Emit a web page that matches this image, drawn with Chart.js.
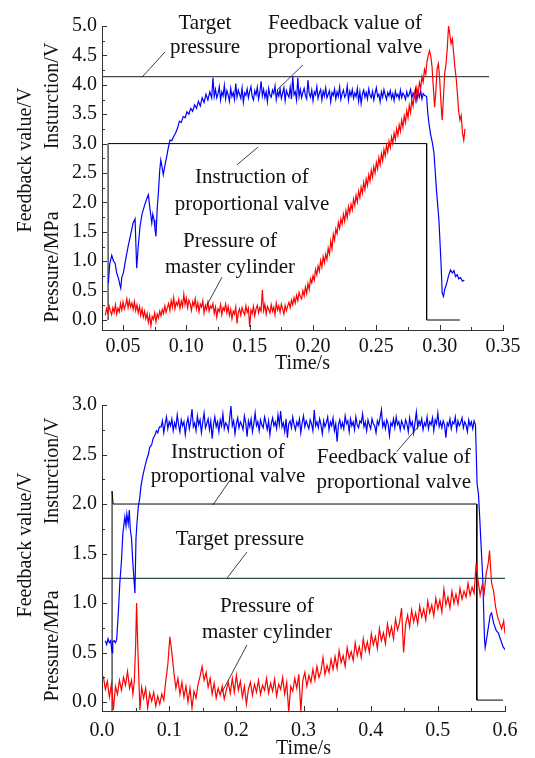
<!DOCTYPE html>
<html>
<head>
<meta charset="utf-8">
<script src="https://cdn.jsdelivr.net/npm/chart.js@4.4.1/dist/chart.umd.min.js"></script>
<style>
  body { margin: 0; background: #fff; }
  .wrap { position: relative; width: 535px; height: 758px; overflow: hidden; }
  canvas { position: absolute; left: 0; }
</style>
</head>
<body>
<div class="wrap">
  <canvas id="chartTop" width="535" height="379" style="top:0"></canvas>
  <canvas id="chartBottom" width="535" height="382" style="top:379px"></canvas>
</div>
<script>
// ---- top chart data: [time s, value] ----
const x1Ticks = [0.05, 0.10, 0.15, 0.20, 0.25, 0.30, 0.35];
const y1Ticks = [0.0, 0.5, 1.0, 1.5, 2.0, 2.5, 3.0, 3.5, 4.0, 4.5, 5.0];

const target1 = [[0.0334, 4.14], [0.339, 4.14]];
const instr1 = [[0.0382, 0], [0.0382, 3.0], [0.2897, 3.0], [0.2897, 0], [0.316, 0]];

const feedback1 = [
  [0.0384,0.63],[0.0395,0.95],[0.0411,1.10],[0.0425,1.00],[0.0437,0.97],[0.0450,0.80],[0.0465,0.70],
  [0.0475,0.60],[0.0482,0.54],[0.0490,0.72],[0.0503,0.80],[0.0520,1.02],[0.0540,1.25],[0.0560,1.45],
  [0.0580,1.65],[0.0595,1.72],[0.0608,0.88],[0.0620,1.25],[0.0634,1.59],[0.0650,1.80],[0.0670,1.95],
  [0.0685,2.05],[0.0700,2.13],[0.0712,1.90],[0.0727,1.65],[0.0735,1.80],[0.0745,1.70],[0.0752,1.55],
  [0.0760,1.42],[0.0770,1.90],[0.0779,2.16],[0.0790,2.55],[0.0798,2.72],[0.0808,2.60],[0.0818,2.47],
  [0.0830,2.62],[0.0845,2.78],[0.0855,2.90],[0.0871,3.06],[0.0885,3.05],[0.0900,3.12],[0.0915,3.18],
  [0.0930,3.26],[0.0945,3.38],[0.0960,3.36],[0.0975,3.46],[0.0990,3.44],[0.1005,3.54],[0.1020,3.50],
  [0.1035,3.60],[0.1050,3.55],[0.1065,3.66],[0.1080,3.60],[0.1095,3.72],[0.1110,3.64],[0.1125,3.78],
  [0.1140,3.70],[0.1155,3.84],[0.1170,3.74],[0.1185,3.88],[0.1200,3.78],[0.1210,4.12],[0.1220,3.80],
  [0.123,3.92],[0.124,3.78],[0.125,3.85],[0.126,3.97],[0.127,3.74],[0.128,3.88],[0.129,3.81],[0.130,3.99],[0.131,3.76],[0.132,3.90],
  [0.133,3.83],[0.134,3.72],[0.135,3.94],[0.136,3.80],[0.137,3.87],[0.138,3.75],[0.139,4.02],[0.140,3.79],[0.141,3.91],[0.142,3.84],
  [0.143,3.77],[0.144,3.95],[0.145,3.70],[0.146,3.86],[0.147,3.82],[0.148,3.93],[0.149,3.78],[0.150,3.89],[0.151,3.97],[0.152,3.80],
  [0.153,3.74],[0.154,3.90],[0.155,3.83],[0.156,3.96],[0.157,3.76],[0.158,3.87],[0.159,4.06],[0.160,3.81],[0.161,3.92],[0.162,3.78],
  [0.163,3.88],[0.164,3.71],[0.165,3.94],[0.166,3.82],[0.167,3.79],[0.168,3.91],[0.169,3.85],[0.170,3.98],[0.171,3.75],[0.172,3.89],
  [0.173,3.81],[0.174,3.93],[0.175,3.77],[0.176,3.86],[0.177,3.95],[0.178,3.73],[0.179,3.90],[0.180,3.84],[0.181,3.79],[0.182,3.96],
  [0.183,3.76],[0.184,4.14],[0.185,3.83],[0.186,3.88],[0.187,3.74],[0.188,4.12],[0.189,3.80],[0.190,3.92],[0.191,3.78],[0.192,3.87],
  [0.193,3.94],[0.194,3.82],[0.195,3.76],[0.196,4.08],[0.197,3.85],[0.198,3.79],[0.199,3.91],[0.200,3.73],[0.201,3.88],[0.202,3.83],
  [0.203,3.97],[0.204,3.77],[0.205,3.86],[0.206,3.92],[0.207,3.74],[0.208,3.89],[0.209,3.81],[0.210,3.95],[0.211,3.78],[0.212,3.84],
  [0.213,3.90],[0.214,3.71],[0.215,3.87],[0.216,3.82],[0.217,3.93],[0.218,3.76],[0.219,3.88],[0.220,3.80],[0.221,3.96],[0.222,3.75],
  [0.223,3.85],[0.224,3.91],[0.225,3.79],[0.226,3.83],[0.227,3.98],[0.228,3.74],[0.229,3.89],[0.230,3.81],[0.231,3.92],[0.232,3.77],
  [0.233,3.86],[0.234,3.80],[0.235,3.94],[0.236,3.72],[0.237,3.88],[0.238,3.68],[0.239,3.84],[0.240,3.91],[0.241,3.79],[0.242,3.87],
  [0.243,3.76],[0.244,3.93],[0.245,3.82],[0.246,3.78],[0.247,3.89],[0.248,3.74],[0.249,3.86],[0.250,3.95],[0.251,3.80],[0.252,3.84],
  [0.253,3.71],[0.254,3.88],[0.255,3.79],[0.256,3.92],[0.257,3.83],[0.258,3.75],[0.259,3.87],[0.260,3.81],[0.261,3.90],[0.262,3.77],
  [0.263,3.85],[0.264,3.73],[0.265,3.89],[0.266,3.80],[0.267,3.84],[0.268,3.76],[0.269,3.91],[0.270,3.78],[0.271,3.86],[0.272,3.82],
  [0.273,3.75],[0.274,3.88],[0.275,3.80],[0.276,3.84],[0.277,3.92],[0.278,3.77],[0.279,3.86],[0.280,3.81],[0.281,3.93],[0.282,3.74],
  [0.283,3.87],[0.284,3.79],[0.285,3.90],[0.286,3.76],[0.287,3.85],[0.288,3.82],
  [0.2897,3.80],[0.2905,3.55],[0.2915,3.35],[0.2929,3.15],
  [0.2942,3.02],[0.2955,2.84],[0.2975,2.20],[0.2994,1.70],[0.3010,1.00],[0.3020,0.46],[0.3030,0.40],
  [0.3040,0.52],[0.3055,0.62],[0.3070,0.75],[0.3086,0.85],[0.3100,0.80],[0.3113,0.84],[0.3125,0.74],
  [0.3139,0.77],[0.3150,0.70],[0.3165,0.72],[0.3180,0.66],[0.3195,0.68]
];

const pressure1 = [
  [0.036,0.08],[0.037,0.19],[0.038,0.12],[0.039,0.24],[0.040,0.15],[0.041,0.09],[0.042,0.21],[0.043,0.13],[0.044,0.26],[0.045,0.10],
  [0.046,0.20],[0.047,0.14],[0.048,0.28],[0.049,0.17],[0.050,0.31],[0.051,0.19],[0.052,0.25],[0.053,0.36],[0.054,0.21],[0.055,0.33],
  [0.056,0.22],[0.057,0.29],[0.058,0.18],[0.059,0.31],[0.060,0.16],[0.061,0.26],[0.062,0.12],[0.063,0.23],[0.064,0.08],[0.065,0.19],
  [0.066,0.05],[0.067,0.15],[0.068,0.02],[0.069,0.11],[0.070,-0.04],[0.071,0.08],[0.072,-0.10],[0.073,0.06],[0.074,0.01],[0.075,0.12],
  [0.076,-0.03],[0.077,0.10],[0.078,0.04],[0.079,0.15],[0.080,0.07],[0.081,0.18],[0.082,0.11],[0.083,0.24],[0.084,0.13],[0.085,0.21],
  [0.086,0.28],[0.087,0.16],[0.088,0.33],[0.089,0.22],[0.090,0.38],[0.091,0.19],[0.092,0.30],[0.093,0.25],[0.094,0.35],[0.095,0.20],
  [0.096,0.32],[0.097,0.23],[0.098,0.44],[0.099,0.26],[0.100,0.37],[0.101,0.21],[0.102,0.34],[0.103,0.28],[0.104,0.16],[0.105,0.31],
  [0.106,0.24],[0.107,0.36],[0.108,0.19],[0.109,0.29],[0.110,0.14],[0.111,0.27],[0.112,0.22],[0.113,0.33],[0.114,0.12],[0.115,0.25],
  [0.116,0.18],[0.117,0.30],[0.118,0.15],[0.119,0.24],[0.120,0.20],[0.121,0.28],[0.122,0.11],[0.123,0.22],[0.124,0.05],[0.125,0.19],
  [0.126,0.14],[0.127,0.26],[0.128,0.09],[0.129,0.21],[0.130,0.16],[0.131,0.27],[0.132,0.12],[0.133,0.23],[0.134,0.08],[0.135,0.18],
  [0.136,0.02],[0.137,0.15],[0.138,0.10],[0.139,0.22],[0.140,-0.06],[0.141,0.13],[0.142,0.19],[0.143,0.08],[0.144,0.21],[0.145,0.14],
  [0.146,0.09],[0.147,0.24],[0.148,0.13],[0.149,0.20],[0.150,-0.12],[0.151,0.17],[0.152,0.11],[0.153,0.23],[0.154,0.07],[0.155,0.19],
  [0.156,0.25],[0.157,0.12],[0.158,0.21],[0.159,0.15],[0.160,0.51],[0.161,0.16],[0.162,0.27],[0.163,0.10],[0.164,0.23],[0.165,0.18],
  [0.166,0.12],[0.167,0.26],[0.168,0.15],[0.169,0.22],[0.170,0.09],[0.171,0.29],[0.172,0.17],[0.173,0.24],[0.174,0.13],[0.175,0.27],
  [0.176,0.19],[0.177,0.10],[0.178,0.25],[0.179,0.16],[0.180,0.24],
  [0.181,0.30],[0.182,0.21],[0.183,0.34],[0.184,0.26],[0.185,0.38],[0.186,0.29],[0.187,0.42],[0.188,0.33],[0.189,0.47],[0.190,0.40],
  [0.191,0.36],[0.192,0.50],[0.193,0.41],[0.194,0.56],[0.195,0.45],[0.196,0.62],[0.197,0.52],[0.198,0.70],[0.199,0.63],[0.200,0.75],
  [0.201,0.68],[0.202,0.86],[0.203,0.77],[0.204,0.92],[0.205,0.83],[0.206,1.01],[0.207,0.90],[0.208,1.08],[0.209,0.97],[0.210,1.12],
  [0.211,1.03],[0.212,1.22],[0.213,1.12],[0.214,1.34],[0.215,1.21],[0.216,1.46],[0.217,1.36],[0.218,1.55],[0.219,1.47],[0.220,1.66],
  [0.221,1.56],[0.222,1.72],[0.223,1.63],[0.224,1.80],[0.225,1.68],[0.226,1.86],[0.227,1.74],[0.228,1.93],[0.229,1.82],[0.230,1.97],
  [0.231,1.87],[0.232,2.06],[0.233,1.95],[0.234,2.12],[0.235,2.01],[0.236,2.19],[0.237,2.08],[0.238,2.26],[0.239,2.16],[0.240,2.34],
  [0.241,2.22],[0.242,2.40],[0.243,2.29],[0.244,2.47],[0.245,2.36],[0.246,2.55],[0.247,2.43],[0.248,2.61],[0.249,2.50],[0.250,2.68],
  [0.251,2.57],[0.252,2.76],[0.253,2.64],[0.254,2.83],[0.255,2.71],[0.256,2.90],[0.257,2.79],[0.258,2.97],[0.259,2.86],[0.260,3.04],
  [0.261,2.93],[0.262,3.11],[0.263,3.00],[0.264,3.18],[0.265,3.07],[0.266,3.25],[0.267,3.14],[0.268,3.32],[0.269,3.21],[0.270,3.40],
  [0.271,3.28],[0.272,3.47],[0.273,3.36],[0.274,3.56],[0.275,3.44],[0.276,3.65],[0.277,3.53],[0.278,3.74],[0.279,3.64],[0.280,3.86],
  [0.281,3.74],[0.282,3.95],[0.283,3.84],[0.284,4.04],[0.285,3.94],[0.286,4.14],[0.287,4.05],[0.288,4.26],[0.289,4.18],[0.290,4.40],
  [0.291,4.50],[0.292,4.58],[0.293,4.48],[0.294,4.30],[0.295,3.95],[0.296,3.62],[0.297,3.90],[0.298,4.28],
  [0.299,4.36],[0.300,4.10],[0.301,3.70],[0.302,3.40],[0.303,3.80],[0.304,4.20],[0.305,4.35],[0.306,4.62],
  [0.307,5.00],[0.308,4.86],[0.309,4.70],[0.310,4.78],[0.311,4.55],[0.312,4.30],[0.313,4.12],[0.314,3.85],
  [0.315,3.55],[0.316,3.40],[0.317,3.48],[0.318,3.18],[0.319,3.06],[0.320,3.25]
];

// ---- bottom chart data ----
const x2Ticks = [0.0, 0.1, 0.2, 0.3, 0.4, 0.5, 0.6];
const y2Ticks = [0.0, 0.5, 1.0, 1.5, 2.0, 2.5, 3.0];

const target2 = [[0.0, 1.25], [0.6, 1.25]];
const instr2 = [[0.015, -0.09], [0.015, 2.13], [0.0165, 2.0], [0.558, 2.0], [0.558, 0.02], [0.597, 0.02]];

const feedback2 = [
  [0.005,0.62],[0.007,0.58],[0.009,0.64],[0.011,0.60],[0.013,0.62],[0.015,0.50],[0.016,0.61],[0.018,0.62],
  [0.020,0.60],[0.0218,0.63],[0.0243,0.90],[0.0265,1.20],[0.029,1.43],[0.031,1.70],[0.034,1.87],[0.0357,1.78],
  [0.037,1.90],[0.039,1.80],[0.0407,1.94],[0.042,1.75],[0.044,1.65],[0.0457,1.43],[0.047,1.30],[0.049,1.10],
  [0.0506,1.65],[0.052,1.80],[0.054,1.97],[0.056,2.05],[0.058,2.18],[0.0615,2.31],[0.064,2.38],[0.0665,2.45],
  [0.069,2.50],[0.071,2.57],[0.074,2.60],[0.076,2.66],[0.079,2.70],[0.081,2.74],[0.083,2.72],[0.0855,2.78],
  [0.088,2.78],[0.090,2.84],[0.092,2.72],[0.094,2.81],[0.096,2.88],[0.098,2.76],[0.100,2.83],[0.102,2.79],[0.104,2.86],[0.106,2.74],
  [0.108,2.82],[0.110,2.77],[0.112,2.90],[0.114,2.80],[0.116,2.73],[0.118,2.85],[0.120,2.79],[0.122,2.83],[0.124,2.70],[0.126,2.81],
  [0.128,2.87],[0.130,2.76],[0.132,2.84],[0.134,2.96],[0.136,2.78],[0.138,2.82],[0.140,2.74],[0.142,2.89],[0.144,2.80],[0.146,2.85],
  [0.148,2.72],[0.150,2.83],[0.152,2.92],[0.154,2.77],[0.156,2.81],[0.158,2.86],[0.160,2.75],[0.162,2.84],[0.164,2.66],[0.166,2.80],
  [0.168,2.88],[0.170,2.78],[0.172,2.83],[0.174,2.73],[0.176,2.85],[0.178,2.79],[0.180,2.91],[0.182,2.76],[0.184,2.82],[0.186,2.80],
  [0.188,2.74],[0.190,2.86],[0.192,2.99],[0.194,2.79],[0.196,2.84],[0.198,2.71],[0.200,2.81],[0.202,2.87],[0.204,2.77],[0.206,2.83],
  [0.208,2.80],[0.210,2.75],[0.212,2.89],[0.214,2.82],[0.216,2.68],[0.218,2.84],[0.220,2.78],[0.222,2.86],[0.224,2.73],[0.226,2.81],
  [0.228,2.92],[0.230,2.79],[0.232,2.83],[0.234,2.74],[0.236,2.85],[0.238,2.80],[0.240,2.77],[0.242,2.88],[0.244,2.82],[0.246,2.75],
  [0.248,2.84],[0.250,2.70],[0.252,2.81],[0.254,2.87],[0.256,2.79],[0.258,2.83],[0.260,2.76],[0.262,2.90],[0.264,2.80],[0.266,2.94],
  [0.268,2.78],[0.270,2.82],[0.272,2.73],[0.274,2.86],[0.276,2.67],[0.278,2.81],[0.280,2.84],[0.282,2.77],[0.284,2.88],[0.286,2.80],
  [0.288,2.75],[0.290,2.83],[0.292,2.79],[0.294,2.86],[0.296,2.72],[0.298,2.82],[0.300,2.89],[0.302,2.78],[0.304,2.84],[0.306,2.80],
  [0.308,2.76],[0.310,2.85],[0.312,2.81],[0.314,2.74],[0.316,2.95],[0.318,2.79],[0.320,2.83],[0.322,2.77],[0.324,2.86],[0.326,2.80],
  [0.328,2.71],[0.330,2.84],[0.332,2.78],[0.334,2.82],[0.336,2.88],[0.338,2.75],[0.340,2.83],[0.342,2.79],[0.344,2.87],[0.346,2.74],
  [0.348,2.81],[0.350,2.63],[0.352,2.80],[0.354,2.85],[0.356,2.77],[0.358,2.82],[0.360,2.76],[0.362,2.89],[0.364,2.81],[0.366,2.84],
  [0.368,2.73],[0.370,2.86],[0.372,2.79],[0.374,2.83],[0.376,2.75],[0.378,2.88],[0.380,2.80],[0.382,2.77],[0.384,2.84],[0.386,2.82],
  [0.388,2.91],[0.390,2.78],[0.392,2.83],[0.394,2.74],[0.396,2.85],[0.398,2.80],[0.400,2.76],[0.402,2.86],[0.404,2.81],[0.406,2.79],
  [0.408,2.72],[0.410,2.84],[0.412,2.80],[0.414,2.87],[0.416,2.95],[0.418,2.78],[0.420,2.83],[0.422,2.76],[0.424,2.85],[0.426,2.81],
  [0.428,2.69],[0.430,2.82],[0.432,2.79],[0.434,2.86],[0.436,2.77],[0.438,2.88],[0.440,2.80],[0.442,2.83],[0.444,2.75],[0.446,2.84],
  [0.448,2.80],[0.450,2.76],[0.452,2.85],[0.454,2.81],[0.456,2.73],[0.458,2.87],[0.460,2.79],[0.462,2.83],[0.464,2.72],[0.466,2.82],
  [0.468,2.93],[0.470,2.78],[0.472,2.84],[0.474,2.80],[0.476,2.86],[0.478,2.75],[0.480,2.82],[0.482,2.79],[0.484,2.88],[0.486,2.76],
  [0.488,2.83],[0.490,2.80],[0.492,2.87],[0.494,2.74],[0.496,2.85],[0.498,2.81],[0.500,2.92],[0.502,2.78],[0.504,2.83],[0.506,2.77],
  [0.508,2.84],[0.510,2.80],[0.512,2.67],[0.514,2.82],[0.516,2.79],[0.518,2.86],[0.520,2.76],[0.522,2.83],[0.524,2.81],[0.526,2.88],
  [0.528,2.75],[0.530,2.84],[0.532,2.79],[0.534,2.82],[0.536,2.87],[0.538,2.77],[0.540,2.83],[0.542,2.80],[0.544,2.73],[0.546,2.85],
  [0.548,2.79],[0.550,2.83],[0.552,2.76],[0.554,2.84],[0.556,2.80],
  [0.5585,2.20],[0.5605,2.10],[0.5625,1.84],[0.565,1.50],[0.567,1.23],[0.5695,0.63],[0.5705,0.55],[0.574,0.70],[0.578,0.88],[0.580,0.90],
  [0.583,0.80],[0.587,0.72],[0.590,0.70],[0.594,0.62],[0.597,0.56],[0.600,0.53]
];

const pressure2 = [
  [0.002,0.26],[0.005,0.13],[0.008,0.21],[0.011,0.05],[0.014,0.18],[0.017,-0.08],[0.020,0.16],[0.023,0.08],
  [0.026,0.22],[0.029,0.12],[0.032,0.25],[0.035,0.17],[0.038,0.31],[0.041,0.14],[0.044,0.22],[0.046,0.08],
  [0.048,0.20],[0.050,0.55],[0.0515,1.00],[0.053,0.62],[0.055,0.20],[0.0565,-0.08],[0.059,0.15],[0.062,0.04],
  [0.065,0.14],[0.068,-0.06],[0.071,0.09],[0.074,0.01],[0.077,0.10],[0.080,-0.04],[0.083,0.06],[0.086,-0.02],
  [0.089,0.08],[0.092,0.02],[0.095,0.22],[0.098,0.38],[0.101,0.66],[0.104,0.50],[0.107,0.30],[0.110,0.14],
  [0.113,0.24],[0.116,0.08],[0.119,0.20],[0.122,0.05],[0.125,0.16],[0.128,0.00],[0.131,0.14],[0.134,-0.06],
  [0.137,0.11],[0.140,0.04],[0.143,0.18],[0.146,0.26],[0.149,0.36],[0.152,0.22],[0.155,0.30],[0.158,0.15],
  [0.161,0.24],[0.164,0.08],[0.167,0.19],[0.170,0.04],[0.173,0.14],[0.176,0.07],[0.179,0.16],[0.182,0.03],
  [0.185,0.12],[0.188,0.20],[0.191,0.09],[0.194,0.24],[0.197,0.10],[0.200,0.27],[0.203,0.12],[0.206,0.21],
  [0.209,0.05],[0.212,0.16],[0.215,-0.02],[0.218,0.13],[0.221,0.20],[0.224,0.07],[0.227,0.18],[0.230,0.10],
  [0.233,0.22],[0.236,0.08],[0.239,0.17],[0.242,0.12],[0.245,0.24],[0.248,0.09],[0.251,0.19],[0.254,0.11],
  [0.257,0.23],[0.260,0.06],[0.263,0.18],[0.266,0.13],[0.269,0.25],[0.272,0.08],[0.275,0.20],[0.278,-0.10],
  [0.281,0.16],[0.284,0.11],[0.287,0.24],[0.290,0.14],[0.293,0.28],[0.296,-0.09],[0.299,0.22],[0.302,0.30],
  [0.305,0.16],[0.308,0.27],[0.311,0.20],[0.314,0.33],[0.317,0.22],[0.320,0.36],[0.323,0.25],[0.326,0.31],
  [0.329,0.45],[0.332,0.28],[0.335,0.37],[0.338,0.30],[0.341,0.43],[0.344,0.33],[0.347,0.46],[0.350,0.34],
  [0.353,0.52],[0.356,0.40],[0.359,0.47],[0.362,0.36],[0.365,0.55],[0.368,0.44],[0.371,0.51],[0.374,0.42],
  [0.377,0.60],[0.380,0.47],[0.383,0.56],[0.386,0.45],[0.389,0.64],[0.392,0.52],[0.395,0.61],[0.398,0.50],
  [0.401,0.69],[0.404,0.58],[0.407,0.66],[0.410,0.54],[0.413,0.74],[0.416,0.62],[0.419,0.70],[0.422,0.59],
  [0.425,0.79],[0.428,0.67],[0.431,0.76],[0.434,0.64],[0.437,0.84],[0.440,0.73],[0.443,0.80],[0.446,0.95],
  [0.449,0.50],[0.452,0.78],[0.455,0.88],[0.458,0.76],[0.461,0.93],[0.464,0.81],[0.467,0.90],[0.470,0.79],
  [0.473,0.97],[0.476,0.86],[0.479,0.94],[0.482,0.83],[0.485,1.02],[0.488,0.90],[0.491,0.98],[0.494,0.87],
  [0.497,1.05],[0.500,0.94],[0.503,1.03],[0.506,0.91],[0.509,1.14],[0.512,0.98],[0.515,1.06],[0.518,0.95],
  [0.521,1.12],[0.524,1.00],[0.527,1.09],[0.530,0.99],[0.533,1.15],[0.536,1.04],[0.539,1.12],[0.542,1.06],
  [0.545,1.20],[0.548,1.08],[0.551,1.16],[0.554,1.10],[0.557,1.40],[0.560,1.22],[0.563,1.08],[0.566,1.18],
  [0.569,1.10],[0.572,1.30],[0.575,1.40],[0.577,1.53],[0.580,1.20],[0.583,1.12],[0.586,0.96],[0.589,0.86],
  [0.592,0.80],[0.595,0.74],[0.598,0.82],[0.600,0.69]
];

// annotation labels and leader lines, in data units
const notes1 = [
  { lines: ['Target', 'pressure'], x: 0.1147, ys: [4.95, 4.54], lead: [[0.065, 4.13], [0.0832, 4.56]] },
  { lines: ['Feedback value of', 'proportional valve'], x: 0.2253, ys: [4.95, 4.54], lead: [[0.1921, 4.34], [0.1716, 3.91]] },
  { lines: ['Instruction of', 'proportional valve'], x: 0.1518, ys: [2.33, 1.87], lead: [[0.1566, 2.94], [0.140, 2.64]] },
  { lines: ['Pressure of', 'master cylinder'], x: 0.1345, ys: [1.24, 0.80], lead: [[0.1282, 0.73], [0.1163, 0.255]] }
];
const notes2 = [
  { lines: ['Instruction of', 'proportional valve'], x: 0.1875, ys: [2.46, 2.22], lead: [[0.1905, 2.24], [0.165, 1.99]] },
  { lines: ['Feedback value of', 'proportional valve'], x: 0.4345, ys: [2.41, 2.16], lead: [[0.473, 2.80], [0.439, 2.53]] },
  { lines: ['Target pressure'], x: 0.2054, ys: [1.59], lead: [[0.2158, 1.515], [0.186, 1.25]] },
  { lines: ['Pressure of', 'master cylinder'], x: 0.2455, ys: [0.91, 0.65], lead: [[0.2158, 0.576], [0.1786, 0.10]] }
];

const FONT = '"Liberation Serif", Tinos, "Times New Roman", serif';
Chart.defaults.font.family = FONT;
Chart.defaults.color = '#111';

const pts = arr => arr.map(([x, y]) => ({ x, y }));

const decor = {
  id: 'decor',
  afterDatasetsDraw(chart, args, opts) {
    const { ctx, chartArea: a, scales: { x, y } } = chart;
    ctx.save();
    ctx.strokeStyle = '#333';
    ctx.lineWidth = 1;
    const seg = (x1, y1, x2, y2) => { ctx.beginPath(); ctx.moveTo(x1, y1); ctx.lineTo(x2, y2); ctx.stroke(); };
    const mids = t => t.slice(1).map((v, i) => (v + t[i]) / 2);
    // inward ticks
    opts.xTicks.forEach(v => { const p = Math.round(x.getPixelForValue(v)) + 0.5; seg(p, a.bottom, p, a.bottom - 5); });
    mids(opts.xTicks).forEach(v => { const p = Math.round(x.getPixelForValue(v)) + 0.5; seg(p, a.bottom, p, a.bottom - 3); });
    opts.yTicks.forEach(v => { const p = Math.round(y.getPixelForValue(v)) + 0.5; seg(a.left, p, a.left + 5, p); });
    mids(opts.yTicks).forEach(v => { const p = Math.round(y.getPixelForValue(v)) + 0.5; seg(a.left, p, a.left + 3, p); });

    // annotations
    ctx.fillStyle = '#111';
    ctx.font = '21px ' + FONT;
    ctx.textAlign = 'center';
    ctx.textBaseline = 'alphabetic';
    ctx.strokeStyle = '#111';
    ctx.lineWidth = 0.8;
    opts.notes.forEach(n => {
      n.lines.forEach((t, i) => ctx.fillText(t, x.getPixelForValue(n.x), y.getPixelForValue(n.ys[i])));
      const [p, q] = n.lead;
      seg(x.getPixelForValue(p[0]), y.getPixelForValue(p[1]), x.getPixelForValue(q[0]), y.getPixelForValue(q[1]));
    });

    // stacked y-axis titles
    ctx.font = '20px ' + FONT;
    ctx.textBaseline = 'middle';
    opts.yTitles.forEach(([t, cx, cy]) => {
      ctx.save();
      ctx.translate(cx, cy);
      ctx.rotate(-Math.PI / 2);
      ctx.fillText(t, 0, 0);
      ctx.restore();
    });
    ctx.restore();
  }
};

function makeChart(id, cfg) {
  const line = (data, color, w) => ({
    data: pts(data), borderColor: color, borderWidth: w, pointRadius: 0, tension: 0, fill: false
  });
  return new Chart(document.getElementById(id), {
    type: 'line',
    data: {
      datasets: [
        line(cfg.pressure, '#ff0000', 1.2),
        line(cfg.feedback, '#0000ff', 1.2),
        line(cfg.instr, '#000000', 1),
        line(cfg.target, cfg.targetColor, 1.2)
      ]
    },
    options: {
      responsive: false,
      animation: false,
      events: [],
      layout: { padding: { top: 26, right: cfg.padRight, left: 0, bottom: 0 } },
      plugins: {
        legend: { display: false },
        tooltip: { enabled: false },
        decor: { xTicks: cfg.xTicks, yTicks: cfg.yTicks, notes: cfg.notes, yTitles: cfg.yTitles }
      },
      scales: {
        x: {
          type: 'linear',
          min: cfg.xMin, max: cfg.xMax,
          grid: { display: false, drawTicks: false },
          border: { display: true, color: '#333', width: 1 },
          afterBuildTicks: s => { s.ticks = cfg.xTicks.map(v => ({ value: v })); },
          afterFit: s => { s.height = cfg.xHeight; },
          ticks: {
            autoSkip: false, maxRotation: 0, padding: cfg.tickPad,
            font: { size: 20 }, color: '#111',
            callback: v => v.toFixed(cfg.xDigits)
          },
          title: { display: true, text: 'Time/s', font: { size: 20 }, color: '#111', padding: { top: 0, bottom: cfg.titlePad } }
        },
        y: {
          min: cfg.yMin, max: cfg.yMax,
          grid: { display: false, drawTicks: false },
          border: { display: true, color: '#333', width: 1 },
          afterBuildTicks: s => { s.ticks = cfg.yTicks.map(v => ({ value: v })); },
          afterFit: s => { s.width = 102; },
          ticks: {
            autoSkip: false, padding: 5,
            font: { size: 20 }, color: '#111',
            callback: v => v.toFixed(1)
          }
        }
      }
    },
    plugins: [decor]
  });
}

makeChart('chartTop', {
  pressure: pressure1, feedback: feedback1, instr: instr1, target: target1, targetColor: '#4a4a4a',
  xTicks: x1Ticks, yTicks: y1Ticks, xMin: 0.0334, xMax: 0.35, yMin: -0.17, yMax: 5.0,
  xDigits: 2, padRight: 32, xHeight: 49, tickPad: 5, titlePad: 3, notes: notes1,
  yTitles: [['Feedback value/V', 26, 160], ['Insturction/V', 53, 96], ['Pressure/MPa', 53, 267]]
});

makeChart('chartBottom', {
  pressure: pressure2, feedback: feedback2, instr: instr2, target: target2, targetColor: '#2f4f4f',
  xTicks: x2Ticks, yTicks: y2Ticks, xMin: 0, xMax: 0.6, yMin: -0.09, yMax: 3.0,
  xDigits: 1, padRight: 30, xHeight: 50, tickPad: 8, titlePad: 0, notes: notes2,
  yTitles: [['Feedback value/V', 26, 166], ['Insturction/V', 53, 92], ['Pressure/MPa', 53, 267]]
});
</script>
</body>
</html>
